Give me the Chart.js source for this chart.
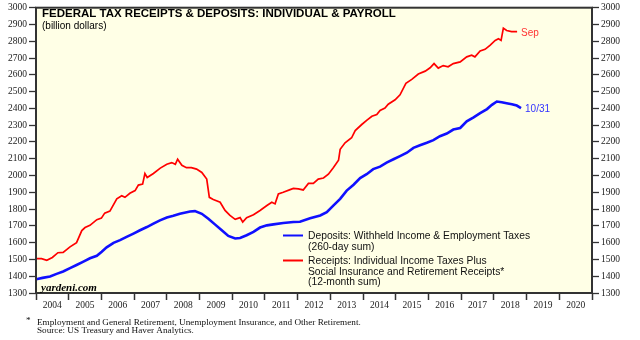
<!DOCTYPE html>
<html lang="en">
<head>
    <meta charset="UTF-8">
    <title>Federal Tax Receipts & Deposits</title>
    <script src="https://cdn.jsdelivr.net/npm/chart.js@4.4.0/dist/chart.umd.min.js"></script>
    <style>
        body { margin: 0; background: #fff; }
        canvas { display: block; }
    </style>
</head>
<body>
<canvas id="chart" width="640" height="340"></canvas>
<script>
    // receipts: individual income taxes + social insurance, 12-month sum (billion $)
    const receiptYears = [
        2004.00, 2004.17, 2004.33, 2004.50, 2004.67, 2004.83, 2005.04, 2005.24, 2005.40, 2005.50,
        2005.65, 2005.86, 2006.00, 2006.10, 2006.26, 2006.47, 2006.62, 2006.72, 2006.87, 2007.03,
        2007.13, 2007.26, 2007.33, 2007.40, 2007.59, 2007.80, 2008.00, 2008.15, 2008.26, 2008.33,
        2008.46, 2008.60, 2008.75, 2008.91, 2009.07, 2009.22, 2009.30, 2009.42, 2009.63, 2009.78,
        2009.93, 2010.09, 2010.24, 2010.32, 2010.44, 2010.65, 2010.85, 2011.06, 2011.21, 2011.31,
        2011.41, 2011.56, 2011.77, 2011.87, 2012.02, 2012.17, 2012.33, 2012.48, 2012.63, 2012.79,
        2012.94, 2013.09, 2013.25, 2013.30, 2013.45, 2013.65, 2013.76, 2013.96, 2014.11, 2014.27,
        2014.42, 2014.52, 2014.67, 2014.77, 2014.98, 2015.13, 2015.31, 2015.49, 2015.69, 2015.90,
        2016.05, 2016.17, 2016.30, 2016.45, 2016.60, 2016.76, 2016.97, 2017.17, 2017.32, 2017.42,
        2017.58, 2017.73, 2017.88, 2018.04, 2018.14, 2018.22, 2018.29, 2018.39, 2018.54, 2018.71
    ];
    const receiptValues = [
        1505, 1505, 1495, 1512, 1540, 1542, 1575, 1600, 1672, 1690,
        1703, 1737, 1746, 1776, 1788, 1861, 1880, 1870, 1894, 1910,
        1943, 1949, 2012, 1988, 2012, 2044, 2067, 2077, 2067, 2097,
        2061, 2047, 2047, 2038, 2018, 1979, 1870, 1857, 1841, 1792,
        1762, 1739, 1749, 1723, 1749, 1766, 1792, 1821, 1841, 1831,
        1890, 1900, 1916, 1923, 1920, 1914, 1953, 1953, 1979, 1985,
        2008, 2047, 2091, 2156, 2195, 2225, 2268, 2304, 2329, 2353,
        2363, 2388, 2402, 2425, 2451, 2481, 2549, 2573, 2605, 2622,
        2642, 2667, 2640, 2655, 2648, 2667, 2677, 2707, 2717, 2707,
        2742, 2752, 2776, 2805, 2815, 2805, 2878, 2864, 2858, 2858
    ];

    // deposits: withheld income & employment taxes, 260-day sum (billion $)
    const depositYears = [
        2004.00, 2004.20, 2004.43, 2004.63, 2004.83, 2005.04, 2005.24, 2005.45, 2005.65, 2005.86,
        2006.01, 2006.16, 2006.37, 2006.57, 2006.77, 2006.98, 2007.18, 2007.39, 2007.59, 2007.79,
        2008.00, 2008.20, 2008.40, 2008.71, 2008.86, 2009.07, 2009.27, 2009.47, 2009.68, 2009.88,
        2010.09, 2010.24, 2010.44, 2010.65, 2010.85, 2011.06, 2011.26, 2011.56, 2011.87, 2012.07,
        2012.38, 2012.69, 2012.89, 2013.09, 2013.30, 2013.50, 2013.71, 2013.91, 2014.11, 2014.31,
        2014.52, 2014.72, 2014.93, 2015.13, 2015.34, 2015.54, 2015.74, 2015.95, 2016.15, 2016.35,
        2016.56, 2016.76, 2016.97, 2017.17, 2017.38, 2017.58, 2017.79, 2017.94, 2018.09, 2018.24,
        2018.39, 2018.55, 2018.70, 2018.83
    ];
    const depositValues = [
        1382, 1390, 1398, 1414, 1428, 1448, 1467, 1487, 1507, 1522,
        1546, 1572, 1599, 1615, 1634, 1654, 1674, 1693, 1713, 1733,
        1750, 1760, 1772, 1786, 1788, 1772, 1743, 1709, 1674, 1640,
        1625, 1628, 1644, 1664, 1690, 1703, 1709, 1717, 1723, 1725,
        1745, 1762, 1782, 1821, 1861, 1910, 1945, 1985, 2008, 2038,
        2053, 2077, 2097, 2116, 2136, 2165, 2180, 2195, 2211, 2234,
        2250, 2274, 2283, 2323, 2347, 2372, 2396, 2421, 2441, 2437,
        2431, 2425, 2417, 2402
    ];

    const yearTicks = [2004, 2005, 2006, 2007, 2008, 2009, 2010, 2011, 2012, 2013,
        2014, 2015, 2016, 2017, 2018, 2019, 2020, 2021];
    const valueTicks = [1300, 1400, 1500, 1600, 1700, 1800, 1900, 2000, 2100, 2200,
        2300, 2400, 2500, 2600, 2700, 2800, 2900, 3000];

    const legendLines = [
        ['Deposits: Withheld Income & Employment Taxes', '(260-day sum)'],
        ['Receipts: Individual Income Taxes Plus', 'Social Insurance and Retirement Receipts*', '(12-month sum)']
    ];
    const endLabels = ['10/31', 'Sep'];

    const serif = '"Liberation Serif", "DejaVu Serif", serif';
    const sans = '"Liberation Sans", Arial, sans-serif';

    const toPoints = (xs, ys) => xs.map((x, i) => ({x: x, y: ys[i]}));

    const plotBackground = {
        id: 'plotBackground',
        beforeDraw(chart) {
            const {ctx, chartArea: a} = chart;
            ctx.save();
            ctx.fillStyle = '#ffffe6';
            ctx.fillRect(a.left, a.top, a.right - a.left, a.bottom - a.top);
            ctx.restore();
        }
    };

    const annotations = {
        id: 'annotations',
        afterDatasetsDraw(chart) {
            const {ctx, chartArea: a, scales} = chart;
            ctx.save();

            // frame
            ctx.strokeStyle = '#333';
            ctx.lineWidth = 2;
            ctx.strokeRect(a.left, a.top, a.right - a.left, a.bottom - a.top);

            // title, sized to span ~354px
            const title = 'FEDERAL TAX RECEIPTS & DEPOSITS: INDIVIDUAL & PAYROLL';
            ctx.fillStyle = '#000';
            ctx.textBaseline = 'alphabetic';
            ctx.font = 'bold 12px ' + sans;
            const titleSize = 12 * 354 / ctx.measureText(title).width;
            ctx.font = 'bold ' + titleSize.toFixed(2) + 'px ' + sans;
            ctx.fillText(title, 42, 17);
            ctx.font = '10px ' + sans;
            ctx.fillText('(billion dollars)', 42, 28.5);

            // source mark
            ctx.font = 'italic bold 11px ' + serif;
            ctx.fillText('yardeni.com', 41, 290.5);

            // legend
            ctx.textBaseline = 'middle';
            ctx.font = '10.3px ' + sans;
            const legendY = [235.5, 260.5];
            chart.data.datasets.forEach((ds, i) => {
                ctx.strokeStyle = ds.borderColor;
                ctx.lineWidth = 2;
                ctx.beginPath();
                ctx.moveTo(283, legendY[i]);
                ctx.lineTo(303, legendY[i]);
                ctx.stroke();
                ctx.fillStyle = '#111';
                legendLines[i].forEach((t, j) => ctx.fillText(t, 308, legendY[i] + 1 + j * 10.4));
            });

            // labels at the last point of each series
            const endColors = ['#3333ff', '#ff3333'];
            ctx.font = '10px ' + sans;
            chart.data.datasets.forEach((ds, i) => {
                const last = ds.data[ds.data.length - 1];
                ctx.fillStyle = endColors[i];
                ctx.fillText(endLabels[i], scales.x.getPixelForValue(last.x) + 4,
                    scales.y.getPixelForValue(last.y) + 1.5);
            });

            // footnote
            ctx.fillStyle = '#111';
            ctx.font = '9.2px ' + serif;
            ctx.fillText('*', 26, 321);
            ctx.fillText('Employment and General Retirement, Unemployment Insurance, and Other Retirement.', 37, 322.5);
            ctx.fillText('Source: US Treasury and Haver Analytics.', 37, 331);
            ctx.restore();
        }
    };

    const valueAxis = (position, width) => ({
        type: 'linear',
        position: position,
        min: 1300,
        max: 3000,
        afterBuildTicks: (scale) => { scale.ticks = valueTicks.map(v => ({value: v})); },
        afterFit: (scale) => { scale.width = width; },
        grid: {drawOnChartArea: false, drawTicks: true, tickLength: 7, tickWidth: 1.3, tickColor: '#333'},
        border: {display: false},
        ticks: {
            padding: 2,
            color: '#222',
            font: {family: serif, size: 9.5},
            callback: (v) => String(v)
        }
    });

    new Chart(document.getElementById('chart'), {
        type: 'line',
        data: {
            datasets: [
                {
                    label: 'Deposits',
                    data: toPoints(depositYears, depositValues),
                    borderColor: '#1010ff',
                    borderWidth: 2.6,
                    pointRadius: 0,
                    tension: 0
                },
                {
                    label: 'Receipts',
                    data: toPoints(receiptYears, receiptValues),
                    borderColor: '#ff0000',
                    borderWidth: 1.7,
                    pointRadius: 0,
                    tension: 0
                }
            ]
        },
        options: {
            responsive: false,
            animation: false,
            devicePixelRatio: 1,
            layout: {padding: {top: 4, left: 0, right: 0, bottom: 0}},
            plugins: {legend: {display: false}, tooltip: {enabled: false}},
            scales: {
                x: {
                    type: 'linear',
                    min: 2004,
                    max: 2021,
                    afterBuildTicks: (scale) => {
                        const ticks = [];
                        yearTicks.forEach((yr, i) => {
                            ticks.push({value: yr});
                            if (i < yearTicks.length - 1) ticks.push({value: yr + 0.5});
                        });
                        scale.ticks = ticks;
                    },
                    afterFit: (scale) => { scale.height = 47; },
                    grid: {
                        drawOnChartArea: false,
                        drawTicks: true,
                        tickLength: 7,
                        tickWidth: 1.5,
                        tickColor: (c) => (c.tick && c.tick.value % 1) ? 'rgba(0,0,0,0)' : '#333'
                    },
                    border: {display: false},
                    ticks: {
                        autoSkip: false,
                        maxRotation: 0,
                        padding: 0,
                        color: '#222',
                        font: {family: serif, size: 9.5},
                        callback: (v) => (v % 1) ? String(Math.floor(v)) : ''
                    }
                },
                y: valueAxis('left', 36),
                y2: valueAxis('right', 48)
            }
        },
        plugins: [plotBackground, annotations]
    });
</script>
</body>
</html>
